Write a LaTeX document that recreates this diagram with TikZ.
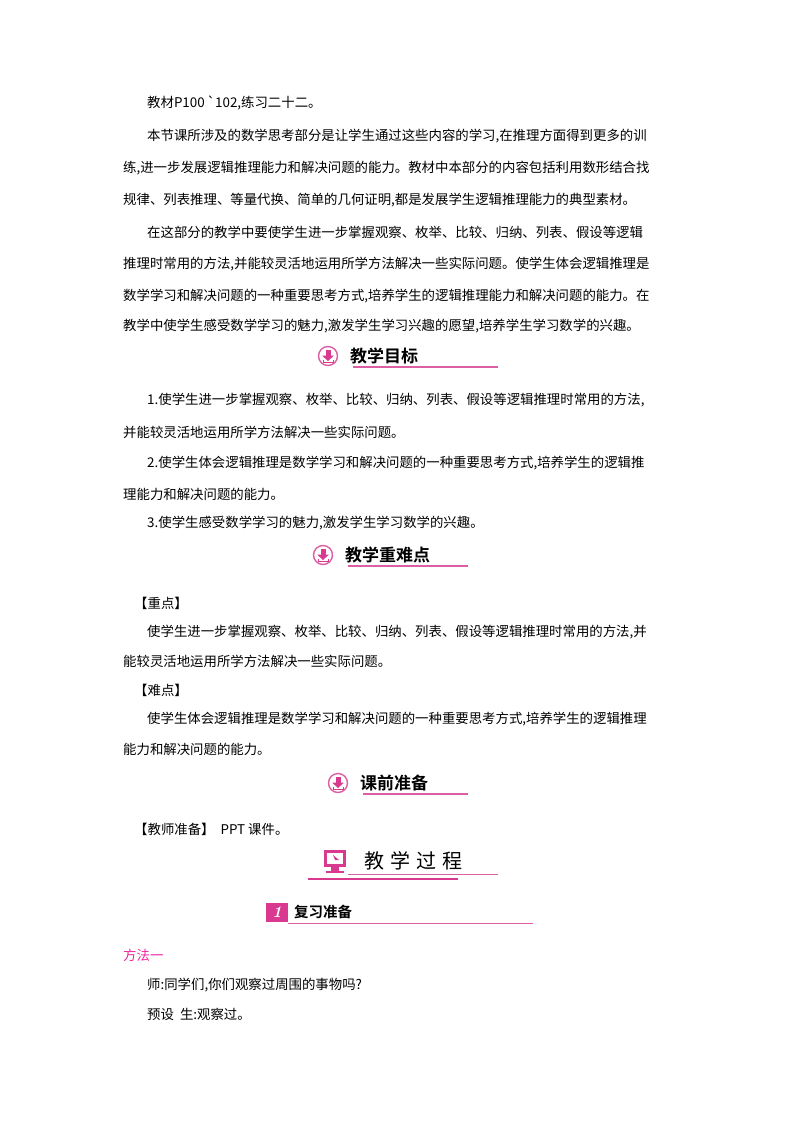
\documentclass[tikz,border=0pt]{standalone}
\usepackage{fontspec}
\newfontfamily\cjk{Noto Sans CJK SC}
\newfontfamily\cjkb{Noto Sans CJK SC Bold}
\definecolor{pk}{HTML}{D9398F}
\definecolor{pkl}{HTML}{DD5FA3}
\begin{document}
\begin{tikzpicture}[x=1pt,y=-1pt,
 t/.style={anchor=west,inner sep=0,font=\cjk\fontsize{13.4}{14}\selectfont},
 h/.style={anchor=west,inner sep=0,font=\cjkb\fontsize{17}{18}\selectfont}]
\useasboundingbox (0,0) rectangle (800,1132);
\fill[white] (0,0) rectangle (800,1132);
\newcommand\dl[3]{\node[t] (#1) at (#2) {#3};}
\dl{a1}{147,103}{教材P100\,\symbol{96}102,练习二十二。}
\dl{a2}{147,136}{本节课所涉及的数学思考部分是让学生通过这些内容的学习,在推理方面得到更多的训}
\dl{a3}{123,168}{练,进一步发展逻辑推理能力和解决问题的能力。教材中本部分的内容包括利用数形结合找}
\dl{a4}{123,200}{规律、列表推理、等量代换、简单的几何证明,都是发展学生逻辑推理能力的典型素材。}
\dl{a5}{147,232}{在这部分的教学中要使学生进一步掌握观察、枚举、比较、归纳、列表、假设等逻辑}
\dl{a6}{123,264}{推理时常用的方法,并能较灵活地运用所学方法解决一些实际问题。使学生体会逻辑推理是}
\dl{a7}{123,296}{数学学习和解决问题的一种重要思考方式,培养学生的逻辑推理能力和解决问题的能力。在}
\dl{a8}{123,326}{教学中使学生感受数学学习的魅力,激发学生学习兴趣的愿望,培养学生学习数学的兴趣。}
\newcommand\hd[5]{%
 \draw[pkl,line width=1.1pt] (#1+3,#2+11) -- (#1+#4,#2+11);
 \draw[pkl,line width=1.4pt,fill=white] (#1-22,#2) circle (9.5);
 \fill[pk] (#1-24.5,#2-6) rectangle (#1-19.5,#2);
 \fill[pk] (#1-28,#2-0.5) -- (#1-16,#2-0.5) -- (#1-22,#2+5) -- cycle;
 \draw[pk,line width=0.8pt] (#1-27,#2+4) -- (#1-27,#2+6) -- (#1-17,#2+6) -- (#1-17,#2+4);
 \node[h] (#5) at (#1,#2) {#3};}
\hd{350}{356}{教学目标}{148}{h1}
\dl{b1}{147,400}{1.使学生进一步掌握观察、枚举、比较、归纳、列表、假设等逻辑推理时常用的方法,}
\dl{b2}{123,432}{并能较灵活地运用所学方法解决一些实际问题。}
\dl{b3}{147,463}{2.使学生体会逻辑推理是数学学习和解决问题的一种重要思考方式,培养学生的逻辑推}
\dl{b4}{123,494}{理能力和解决问题的能力。}
\dl{b5}{147,523}{3.使学生感受数学学习的魅力,激发学生学习数学的兴趣。}
\hd{345}{555}{教学重难点}{123}{h2}
\dl{c1}{134,603}{【重点】}
\dl{c2}{147,632}{使学生进一步掌握观察、枚举、比较、归纳、列表、假设等逻辑推理时常用的方法,并}
\dl{c3}{123,661}{能较灵活地运用所学方法解决一些实际问题。}
\dl{c4}{134,690}{【难点】}
\dl{c5}{147,719}{使学生体会逻辑推理是数学学习和解决问题的一种重要思考方式,培养学生的逻辑推理}
\dl{c6}{123,749}{能力和解决问题的能力。}
\hd{360}{783}{课前准备}{108}{h3}
\dl{d1}{134,829}{【教师准备】\ \ PPT 课件。}
\draw[pkl,line width=1pt] (348,874) -- (498,874);
\draw[pk,line width=2pt] (308,879) -- (458,879);
\fill[pk] (324,850) rectangle (346,867);
\fill[white] (327,853) rectangle (343,864);
\fill[pk] (331,867) rectangle (339,871);
\fill[pk] (326,871) rectangle (344,873);
\fill[pk] (333,855) -- (339,860) -- (335,860) -- cycle;
\node[anchor=west,inner sep=0,font=\cjk\fontsize{20}{22}\selectfont] (h4) at (364,861) {教\hspace{6pt}学\hspace{6pt}过\hspace{6pt}程};
\fill[pk] (266,903) rectangle (288,922);
\node[anchor=center,inner sep=0,text=white,font=\bfseries\itshape\fontsize{16}{16}\selectfont] (n1) at (277,912.5) {1};
\draw[pkl,line width=0.8pt] (288,923) -- (533,923);
\node[h,font=\cjkb\fontsize{14.5}{16}\selectfont] (h5) at (294,912) {复习准备};
\node[t,text=magenta!85!white] (e1) at (123,955) {方法一};
\dl{e2}{147,985}{师:同学们,你们观察过周围的事物吗?}
\dl{e3}{147,1014}{预设\ \ 生:观察过。}
\end{tikzpicture}
\end{document}
